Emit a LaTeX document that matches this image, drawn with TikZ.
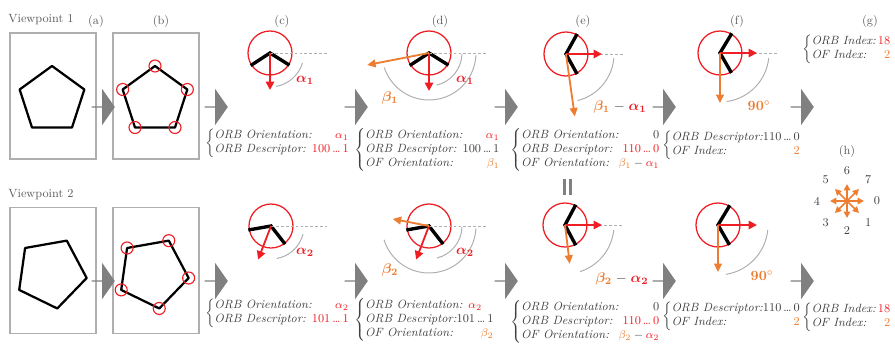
\documentclass[tikz,border=0pt]{standalone}
\usepackage{amsmath,amssymb}
\usepackage{bm}
\usepackage{array}
\usepackage{tikz}
\usetikzlibrary{arrows.meta,shapes.geometric,shapes.arrows,calc}
\usepackage{xcolor}
\definecolor{orbred}{RGB}{238,30,36}
\definecolor{ofora}{RGB}{237,125,49}
\definecolor{txtgray}{RGB}{64,64,64}
\definecolor{framegray}{RGB}{175,175,175}
\definecolor{flowgray}{RGB}{128,128,128}
\definecolor{arcgray}{RGB}{175,175,175}
\tikzset{
  frame/.style    = {rectangle, draw=framegray, line width=0.9pt,
                     minimum width=2.15cm, minimum height=3.15cm, inner sep=0pt},
  pent/.style     = {regular polygon, regular polygon sides=5, draw=black,
                     line width=1.6pt, inner sep=0pt, outer sep=0pt, line join=round},
  kpmark/.style   = {draw=orbred, line width=0.8pt},
  flow/.style     = {single arrow, fill=flowgray, inner sep=0pt,
                     minimum width=0.9cm, minimum height=0.58cm,
                     single arrow head extend=0.2cm, single arrow tip angle=110},
  kpring/.style   = {draw=orbred, line width=0.9pt},
  kpedge/.style   = {draw=black, line width=2.4pt},
  refline/.style  = {draw=arcgray, line width=0.5pt, dash pattern=on 2pt off 1.5pt},
  anglearc/.style = {draw=arcgray, line width=0.7pt},
  orbarr/.style   = {-{Triangle[length=6pt,width=6pt]}, draw=orbred, line width=1.3pt},
  ofarr/.style    = {-{Triangle[length=6pt,width=5.5pt]}, draw=ofora, line width=1.3pt},
  cmparr/.style   = {-{Triangle[length=4.5pt,width=4.5pt]}, draw=ofora, line width=1.1pt},
  redlab/.style   = {text=orbred, inner sep=0pt, font=\fontsize{10}{12}\selectfont},
  oralab/.style   = {text=ofora, inner sep=0pt, font=\fontsize{10}{12}\selectfont},
  info/.style     = {anchor=west, inner sep=0pt, text=txtgray,
                     font=\fontsize{8.5}{9.9}\selectfont},
  panlabel/.style = {text=txtgray!85, inner sep=0pt, font=\fontsize{8.5}{10}\selectfont},
  numlab/.style   = {text=txtgray, inner sep=0pt, font=\fontsize{8.5}{10}\selectfont},
}

\begin{document}
\begin{tikzpicture}[x=0.025cm, y=0.025cm, >=Stealth]
\useasboundingbox (0,0) rectangle (895,344);

%% ── Panel labels ──────────────────────────────────────────
\node[panlabel] (vp1) at (41,324) {Viewpoint 1};
\node[panlabel] (vp2) at (41,149) {Viewpoint 2};
\node[panlabel] (la) at (96,322)  {(a)};
\node[panlabel] (lb) at (161,322) {(b)};
\node[panlabel] (lc) at (282,322) {(c)};
\node[panlabel] (ld) at (440,322) {(d)};
\node[panlabel] (le) at (583,322) {(e)};
\node[panlabel] (lf) at (737,322) {(f)};
\node[panlabel] (lg) at (870,322) {(g)};
\node[panlabel] (lh) at (847,192) {(h)};

%% ── Images (a) and (b) ────────────────────────────────────
\node[frame] (fa1) at (53,248) {};
\node[frame] (fb1) at (156,248) {};
\node[frame] (fa2) at (53,73.5) {};
\node[frame] (fb2) at (156,73.5) {};
\node[pent, minimum size=1.7cm] (pa1) at (52,244) {};
\node[pent, minimum size=1.7cm] (pb1) at (155,244) {};
\node[pent, minimum size=1.8cm, rotate=-26] (pa2) at (51,71) {};
\node[pent, minimum size=1.8cm, rotate=-26] (pb2) at (153,71) {};
\foreach \i in {1,...,5} {
  \draw[kpmark] (pb1.corner \i) circle (6);
  \draw[kpmark] (pb2.corner \i) circle (6);
}

%% ── Flow arrows ───────────────────────────────────────────
\node[flow] (ab1) at (103,237) {};
\node[flow] (bc1) at (216,237) {};
\node[flow] (cd1) at (356,237) {};
\node[flow] (de1) at (506,237) {};
\node[flow] (ef1) at (664,237) {};
\node[flow] (fg1) at (802,237) {};
\node[flow] (ab2) at (103,63) {};
\node[flow] (bc2) at (216,63) {};
\node[flow] (cd2) at (356,63) {};
\node[flow] (de2) at (506,63) {};
\node[flow] (ef2) at (664,63) {};
\node[flow] (fg2) at (802,63) {};

%% ── (c) ORB orientation, viewpoint 1 ──────────────────────
\coordinate (kc1) at (270,291);
\draw[kpring] (kc1) circle (22);
\draw[kpedge] (kc1) ++(-147:23) -- (kc1) -- ++(-32:23);
\draw[refline] (kc1) -- ++(57,0);
\draw[anglearc] (kc1) ++(-17:34) arc[start angle=-17, end angle=-80, radius=34];
\draw[orbarr] (kc1) -- ++(-90:37);
\node[redlab] (ac1) at (305,264) {$\bm{\alpha_1}$};

%% ── (d) ORB + OF orientation, viewpoint 1 ─────────────────
\coordinate (kd1) at (429,291);
\draw[kpring] (kd1) circle (22);
\draw[kpedge] (kd1) ++(-147:23) -- (kd1) -- ++(-32:23);
\draw[refline] (kd1) -- ++(58,0);
\draw[anglearc] (kd1) ++(-2:33) arc[start angle=-2, end angle=-77, radius=33];
\draw[anglearc] (kd1) ++(-3:47) arc[start angle=-3, end angle=-162, radius=47];
\draw[orbarr] (kd1) -- ++(-90:38);
\draw[ofarr] (kd1) -- ++(191:63);
\node[redlab] (ad1) at (465,264) {$\bm{\alpha_1}$};
\node[oralab] (bd1) at (390,246) {$\bm{\beta_1}$};

%% ── (e) rotated to ORB orientation, viewpoint 1 ───────────
\coordinate (ke1) at (566,290);
\draw[kpring] (ke1) circle (22);
\draw[kpedge] (ke1) ++(61:23) -- (ke1) -- ++(-61:23);
\draw[refline] (ke1) -- ++(57,0);
\draw[anglearc] (ke1) ++(-5:48) arc[start angle=-5, end angle=-76, radius=48];
\draw[orbarr] (ke1) -- ++(0:36);
\draw[ofarr] (ke1) -- ++(-82:63);
\node[oralab] (be1) at (620,237)
  {$\bm{\beta_1}\mathrel{\textcolor{txtgray}{-}}\textcolor{orbred}{\bm{\alpha_1}}$};

%% ── (f) quantised OF index, viewpoint 1 ───────────────────
\coordinate (kf1) at (720,291);
\draw[kpring] (kf1) circle (22);
\draw[kpedge] (kf1) ++(59:23) -- (kf1) -- ++(-60:23);
\draw[refline] (kf1) -- ++(58,0);
\draw[anglearc] (kf1) ++(-6:49) arc[start angle=-6, end angle=-82, radius=49];
\draw[orbarr] (kf1) -- ++(0:37);
\draw[ofarr] (kf1) -- ++(-90:50);
\node[oralab] (nf1) at (759,238) {\bfseries 90$^{\circ}$};

%% ── (c) ORB orientation, viewpoint 2 ──────────────────────
\coordinate (kc2) at (271,118);
\draw[kpring] (kc2) circle (22);
\draw[kpedge] (kc2) ++(-170:23) -- (kc2) -- ++(-52:23);
\draw[refline] (kc2) -- ++(56,0);
\draw[anglearc] (kc2) ++(-14:33) arc[start angle=-14, end angle=-80, radius=33];
\draw[orbarr] (kc2) -- ++(-111:36);
\node[redlab] (ac2) at (305,92) {$\bm{\alpha_2}$};

%% ── (d) ORB + OF orientation, viewpoint 2 ─────────────────
\coordinate (kd2) at (429,118);
\draw[kpring] (kd2) circle (22);
\draw[kpedge] (kd2) ++(-170:23) -- (kd2) -- ++(-52:23);
\draw[refline] (kd2) -- ++(58,0);
\draw[anglearc] (kd2) ++(-2:33) arc[start angle=-2, end angle=-76, radius=33];
\draw[anglearc] (kd2) ++(-3:47) arc[start angle=-3, end angle=-163, radius=47];
\draw[orbarr] (kd2) -- ++(-111:36);
\draw[ofarr] (kd2) -- ++(169:37);
\node[redlab] (ad2) at (465,92) {$\bm{\alpha_2}$};
\node[oralab] (bd2) at (390,74) {$\bm{\beta_2}$};

%% ── (e) rotated to ORB orientation, viewpoint 2 ───────────
\coordinate (ke2) at (565,119);
\draw[kpring] (ke2) circle (22);
\draw[kpedge] (ke2) ++(62:23) -- (ke2) -- ++(-62:23);
\draw[refline] (ke2) -- ++(58,0);
\draw[anglearc] (ke2) ++(-6:49) arc[start angle=-6, end angle=-72, radius=49];
\draw[orbarr] (ke2) -- ++(0:37);
\draw[ofarr] (ke2) -- ++(-83:39);
\node[oralab] (be2) at (622,65)
  {$\bm{\beta_2}\mathrel{\textcolor{txtgray}{-}}\textcolor{orbred}{\bm{\alpha_2}}$};

%% ── equal sign between the two (e) panels ─────────────────
\fill[flowgray] (563,149) rectangle (566.3,165);
\fill[flowgray] (568.5,149) rectangle (571.8,165);

%% ── (f) quantised OF index, viewpoint 2 ───────────────────
\coordinate (kf2) at (718,119);
\draw[kpring] (kf2) circle (22);
\draw[kpedge] (kf2) ++(59:23) -- (kf2) -- ++(-60:23);
\draw[anglearc] (kf2) ++(-6:50) arc[start angle=-6, end angle=-81, radius=50];
\draw[orbarr] (kf2) -- ++(0:39);
\draw[ofarr] (kf2) -- ++(-90:47);
\node[oralab] (nf2) at (762,68) {\bfseries 90$^{\circ}$};

%% ── (h) eight OF bins ─────────────────────────────────────
\coordinate (hc) at (847,143);
\foreach \k in {0,...,7} {
  \draw[cmparr] (hc) -- ++(-45*\k:17);
  \node[numlab] (h\k) at ($(hc)+(-45*\k:30)$) {\k};
}

%% ── Descriptors, viewpoint 1 ──────────────────────────────
\node[info] (tc1) at (205,201) {$\left\{\begin{tabular}{@{}>{\itshape}l@{}r@{}}
  ORB Orientation: & \textcolor{orbred}{$\alpha_1$}\\
  ORB Descriptor:  & \textcolor{orbred}{100\,…\,1}\end{tabular}\right.$};
\node[info] (td1) at (354,194) {$\left\{\begin{tabular}{@{}>{\itshape}l@{}r@{}}
  ORB Orientation: & \textcolor{orbred}{$\alpha_1$}\\
  ORB Descriptor:  & 100\,…\,1\\
  OF Orientation:  & \textcolor{ofora}{$\beta_1$}\end{tabular}\right.$};
\node[info] (te1) at (510,194) {$\left\{\begin{tabular}{@{}>{\itshape}l@{}r@{}}
  ORB Orientation: & 0\\
  ORB Descriptor:  & \textcolor{orbred}{110\,…\,0}\\
  OF Orientation:  & $\textcolor{ofora}{\beta_1}-\textcolor{orbred}{\alpha_1}$\end{tabular}\right.$};
\node[info] (tf1) at (662,199) {$\left\{\begin{tabular}{@{}>{\itshape}l@{}r@{}}
  ORB Descriptor:  & 110\,…\,0\\
  OF Index:        & \textcolor{ofora}{2}\end{tabular}\right.$};
\node[info] (tg1) at (802,295) {$\left\{\begin{tabular}{@{}>{\itshape}l@{\,}r@{}}
  ORB Index: & \textcolor{orbred}{18}\\
  OF Index:  & \textcolor{ofora}{2}\end{tabular}\right.$};

%% ── Descriptors, viewpoint 2 ──────────────────────────────
\node[info] (tc2) at (205,31) {$\left\{\begin{tabular}{@{}>{\itshape}l@{}r@{}}
  ORB Orientation: & \textcolor{orbred}{$\alpha_2$}\\
  ORB Descriptor:  & \textcolor{orbred}{101\,…\,1}\end{tabular}\right.$};
\node[info] (td2) at (354,24) {$\left\{\begin{tabular}{@{}>{\itshape}l@{}r@{}}
  \multicolumn{2}{@{}l@{}}{\itshape ORB Orientation: \textcolor{orbred}{$\alpha_2$}}\\
  ORB Descriptor:  & 101\,…\,1\\
  OF Orientation:  & \textcolor{ofora}{$\beta_2$}\end{tabular}\right.$};
\node[info] (te2) at (510,22) {$\left\{\begin{tabular}{@{}>{\itshape}l@{}r@{}}
  ORB Orientation: & 0\\
  ORB Descriptor:  & \textcolor{orbred}{110\,…\,0}\\
  OF Orientation:  & $\textcolor{ofora}{\beta_2}-\textcolor{orbred}{\alpha_2}$\end{tabular}\right.$};
\node[info] (tf2) at (662,28) {$\left\{\begin{tabular}{@{}>{\itshape}l@{}r@{}}
  ORB Descriptor:  & 110\,…\,0\\
  OF Index:        & \textcolor{ofora}{2}\end{tabular}\right.$};
\node[info] (tg2) at (802,27) {$\left\{\begin{tabular}{@{}>{\itshape}l@{\,}r@{}}
  ORB Index: & \textcolor{orbred}{18}\\
  OF Index:  & \textcolor{ofora}{2}\end{tabular}\right.$};

\end{tikzpicture}
\end{document}
